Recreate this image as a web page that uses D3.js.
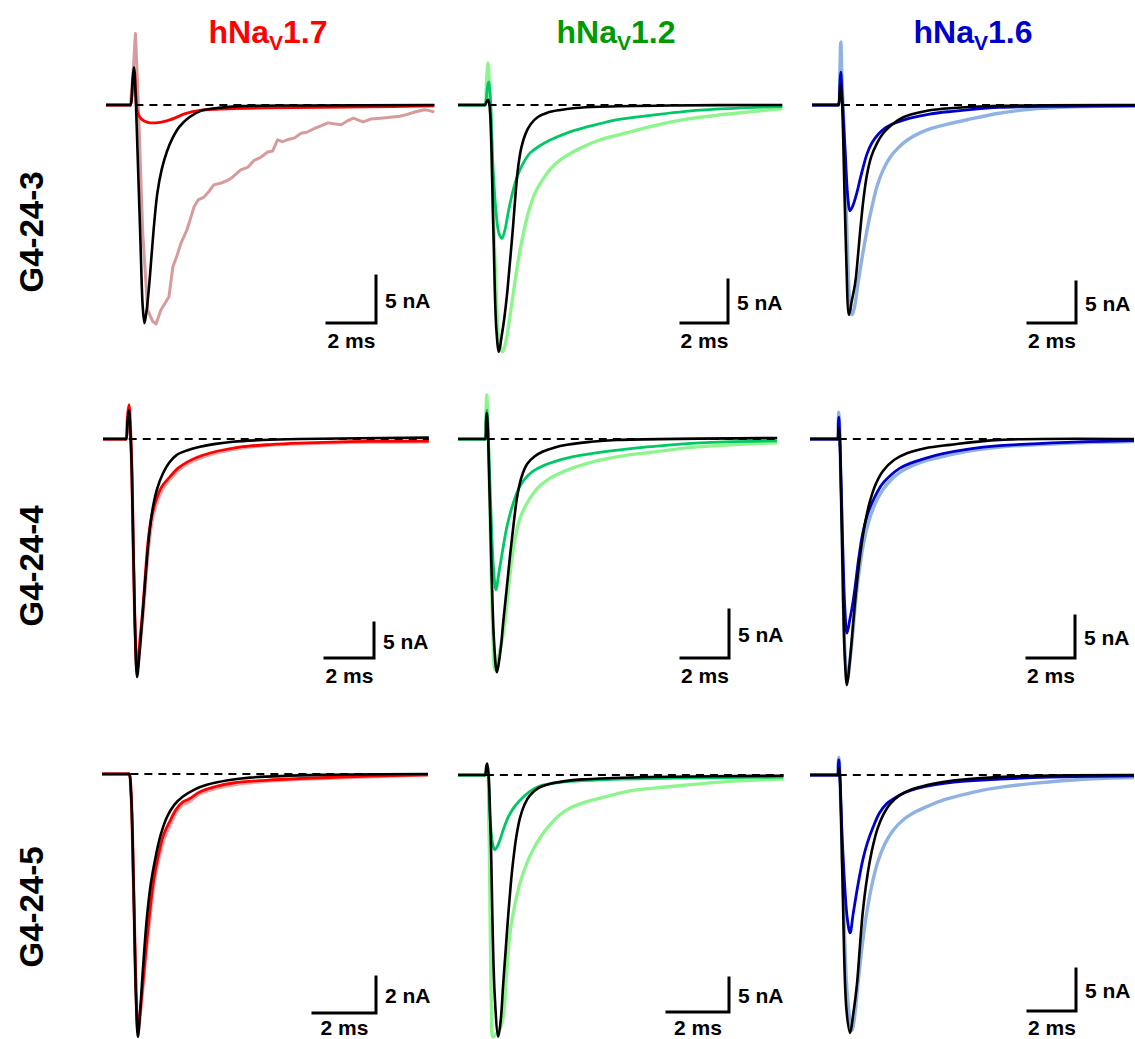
<!DOCTYPE html>
<html>
<head>
<meta charset="utf-8">
<script src="https://d3js.org/d3.v7.min.js"></script>
<style>
  html, body { margin:0; padding:0; background:#fff; }
  svg { display:block; }
  text { font-family: "Liberation Sans", Arial, Helvetica, sans-serif; font-weight: bold; }
</style>
</head>
<body>
<svg id="chart" width="1135" height="1039"></svg>
<script>
// ---------------- DATA (time in ms, current in nA) ----------------
const columnTitles = ["1.7", "1.2", "1.6"];
const rowLabels = ["G4-24-3", "G4-24-4", "G4-24-5"];
const timeBarMs = [2, 2, 2, 2, 2, 2, 2, 2, 2];
const currentBarNa = [5, 5, 5, 5, 5, 5, 2, 5, 5];
const panelEndMs = [13.4, 13.8, 13.5, 13.3, 13.3, 13.5, 10.35, 10.5, 13.5];
const dashStartMs = [1.2, 1.3, 1.25, 1.05, 1.2, 1.2, 0.9, 0.9, 1.2];

// Row 1, hNaV1.7
const r1c1_light = [[0,0],[0.5,0],[0.92,0],[1.0,0],[1.12,4],[1.2,7.6],[1.26,4],[1.32,0],[1.5,-13.6],[1.7,-21.8],[1.9,-23.0],[2.04,-23.3],[2.24,-21.8],[2.57,-20.4],[2.73,-17.2],[2.9,-16],[3.06,-14.7],[3.3,-13.3],[3.47,-11.9],[3.6,-10.8],[3.76,-10.1],[4.0,-9.8],[4.2,-9.2],[4.4,-8.5],[4.7,-8.3],[4.98,-8.0],[5.2,-7.6],[5.5,-6.9],[5.8,-6.6],[6.04,-5.9],[6.3,-5.6],[6.6,-5.0],[6.8,-4.9],[7.0,-3.7],[7.2,-3.9],[7.4,-3.7],[7.7,-3.5],[7.96,-3.0],[8.2,-2.9],[8.5,-2.5],[8.8,-2.2],[9.06,-1.9],[9.3,-2.0],[9.6,-2.1],[9.85,-1.7],[10.1,-1.4],[10.3,-1.6],[10.5,-1.8],[10.8,-1.5],[11.2,-1.4],[11.6,-1.3],[12.0,-1.2],[12.3,-1.0],[12.6,-0.75],[13.0,-0.5],[13.2,-0.6],[13.4,-0.75]];
const r1c1_dark = [[0,0],[0.5,0],[0.94,0],[1.0,0],[1.1,2.5],[1.16,3.6],[1.22,1],[1.3,-0.9],[1.45,-1.5],[1.7,-1.85],[2.04,-1.9],[2.4,-1.75],[2.8,-1.4],[3.2,-0.95],[3.9,-0.55],[5,-0.4],[6.6,-0.3],[10.7,-0.2],[13.4,-0.1]];
const r1c1_black = [[0,0],[0.5,0],[0.94,0],[1.0,0],[1.08,2.5],[1.14,4.0],[1.2,1.5],[1.25,-2],[1.4,-14],[1.5,-21.5],[1.57,-23.2],[1.65,-22],[1.75,-19.5],[1.86,-16],[1.97,-12.5],[2.1,-9.3],[2.27,-6.9],[2.48,-5.0],[2.72,-3.5],[3.0,-2.3],[3.4,-1.3],[3.9,-0.6],[4.6,-0.3],[5.6,-0.12],[8,-0.05],[13.4,0]];

// Row 1, hNaV1.2
const r1c2_light = [[0,0],[0.6,0],[1.09,0],[1.15,0],[1.22,3],[1.28,4.9],[1.34,2],[1.42,-4],[1.6,-20],[1.76,-27.6],[1.9,-28.7],[2.03,-27.6],[2.21,-24.6],[2.42,-20.6],[2.64,-16.9],[2.85,-14.1],[3.06,-11.9],[3.3,-10.1],[3.6,-8.7],[3.95,-7.4],[4.34,-6.4],[4.8,-5.6],[5.3,-4.9],[6.0,-4.1],[6.8,-3.5],[7.5,-3.0],[8.2,-2.5],[9.6,-1.7],[11.0,-1.2],[12.4,-0.8],[13.8,-0.4]];
const r1c2_dark = [[0,0],[0.6,0],[1.09,0],[1.15,0],[1.24,1.8],[1.3,2.7],[1.37,1.2],[1.49,-7.2],[1.62,-12.5],[1.75,-15],[1.87,-15.5],[2.0,-14.5],[2.13,-12.6],[2.32,-10.2],[2.51,-8.4],[2.75,-6.9],[3.06,-5.6],[3.45,-4.8],[3.9,-4.1],[4.6,-3.3],[5.3,-2.7],[6.0,-2.2],[6.8,-1.7],[8.2,-1.2],[10.3,-0.6],[12.4,-0.3],[13.8,-0.2]];
const r1c2_black = [[0,0],[0.6,0],[1.09,0],[1.15,0],[1.22,0.4],[1.28,0.6],[1.34,0],[1.5,-14],[1.63,-26],[1.74,-28.7],[1.85,-27],[1.97,-24.8],[2.08,-22.2],[2.2,-18.6],[2.34,-14.2],[2.45,-10.3],[2.56,-7.2],[2.7,-4.9],[2.88,-3.3],[3.1,-2.2],[3.4,-1.4],[3.8,-0.9],[4.3,-0.6],[5.0,-0.35],[6.0,-0.2],[9,-0.05],[13.8,0]];

// Row 1, hNaV1.6
const r1c3_light = [[0,0],[0.6,0],[1.05,0],[1.1,0],[1.16,4],[1.2,7.7],[1.25,3],[1.32,-2],[1.48,-18],[1.6,-25],[1.67,-25.6],[1.78,-24.5],[1.92,-21.7],[2.1,-18.4],[2.29,-15.3],[2.5,-12.4],[2.7,-10.0],[2.95,-8.0],[3.25,-6.4],[3.6,-5.2],[3.96,-4.3],[4.5,-3.4],[5.04,-2.8],[5.7,-2.3],[6.46,-1.8],[7.8,-1.0],[9.2,-0.5],[11.3,-0.2],[13.5,-0.1]];
const r1c3_dark = [[0,0],[0.6,0],[1.05,0],[1.1,0],[1.16,2.5],[1.2,4.0],[1.25,1.5],[1.38,-5.5],[1.5,-11.5],[1.58,-12.9],[1.7,-12.3],[1.87,-10.7],[2.0,-9.1],[2.13,-7.6],[2.3,-5.9],[2.5,-4.6],[2.78,-3.5],[3.1,-2.7],[3.55,-2.1],[4.08,-1.6],[4.9,-1.1],[5.75,-0.8],[7.8,-0.3],[10.5,-0.15],[13.5,-0.1]];
const r1c3_black = [[0,0],[0.6,0],[1.05,0],[1.1,0],[1.16,1.6],[1.2,2.4],[1.25,0.5],[1.3,-4],[1.42,-18],[1.54,-25.6],[1.65,-24],[1.8,-21.7],[1.9,-18.9],[2.0,-15.6],[2.14,-11.6],[2.29,-8.5],[2.47,-6.3],[2.7,-4.7],[2.95,-3.5],[3.25,-2.6],[3.6,-1.8],[4.08,-1.2],[4.8,-0.7],[5.75,-0.4],[7.8,-0.1],[13.5,0]];

// Row 2, hNaV1.7
const r2c1_light = [[0,0],[0.5,0],[0.89,0],[0.94,0],[1.0,3],[1.06,4.6],[1.12,1.5],[1.18,-5],[1.3,-26],[1.4,-33],[1.52,-29],[1.66,-24],[1.77,-19],[1.88,-14.8],[2.02,-11.4],[2.2,-9.0],[2.45,-7.0],[2.77,-5.6],[3.1,-4.4],[3.47,-3.5],[3.9,-2.8],[4.4,-2.2],[5.0,-1.7],[5.7,-1.25],[6.8,-0.9],[8.0,-0.7],[10.8,-0.45],[13.3,-0.4]];
const r2c1_dark = [[0,0],[0.5,0],[0.89,0],[0.94,0],[1.0,3],[1.06,4.9],[1.12,1.5],[1.18,-5],[1.3,-26],[1.39,-33],[1.5,-29],[1.63,-24],[1.74,-18.8],[1.84,-14.6],[1.98,-11.2],[2.16,-8.8],[2.4,-6.8],[2.73,-5.4],[3.05,-4.2],[3.43,-3.3],[3.85,-2.6],[4.37,-2.0],[5.0,-1.5],[5.7,-1.1],[6.8,-0.8],[8.0,-0.6],[10.8,-0.35],[13.3,-0.3]];
const r2c1_black = [[0,0],[0.5,0],[0.89,0],[0.94,0],[1.0,2.5],[1.06,4.1],[1.12,1],[1.18,-5],[1.3,-26],[1.39,-34],[1.48,-31],[1.59,-26.3],[1.7,-21.3],[1.8,-16.9],[1.91,-12.9],[2.04,-9.7],[2.22,-7.0],[2.45,-4.9],[2.7,-3.4],[3.0,-2.3],[3.45,-1.6],[3.96,-1.1],[4.6,-0.7],[5.3,-0.4],[6.5,-0.15],[8.0,0],[13.3,0.2]];

// Row 2, hNaV1.2
const r2c2_light = [[0,0],[0.6,0],[1.08,0],[1.13,0],[1.17,3],[1.2,4.6],[1.25,1.5],[1.32,-6],[1.45,-20],[1.54,-24],[1.7,-22.5],[1.83,-21],[1.96,-19],[2.1,-15.6],[2.25,-12.4],[2.4,-10.1],[2.58,-8.3],[2.85,-6.8],[3.13,-5.7],[3.45,-4.8],[3.83,-4.1],[4.3,-3.5],[4.8,-3.0],[5.9,-2.2],[7.0,-1.7],[8.0,-1.4],[10.1,-0.8],[13.3,-0.4]];
const r2c2_dark = [[0,0],[0.6,0],[1.08,0],[1.13,0],[1.17,2],[1.2,3.0],[1.25,1],[1.35,-6],[1.48,-13.5],[1.58,-15.7],[1.7,-14],[1.88,-11.3],[2.05,-9.0],[2.25,-7.1],[2.47,-5.5],[2.71,-4.4],[3.1,-3.4],[3.54,-2.8],[4.54,-2.0],[5.9,-1.4],[7.0,-1.05],[8.0,-0.8],[10.1,-0.4],[13.3,-0.2]];
const r2c2_black = [[0,0],[0.6,0],[1.08,0],[1.13,0],[1.17,1.8],[1.2,2.7],[1.25,0.5],[1.32,-6],[1.5,-21],[1.62,-24.3],[1.72,-23],[1.8,-21.4],[1.88,-19.2],[2.02,-15.8],[2.17,-12.1],[2.32,-8.8],[2.46,-6.1],[2.63,-4.1],[2.88,-2.6],[3.2,-1.8],[3.54,-1.3],[4.0,-0.9],[4.54,-0.6],[5.5,-0.3],[6.6,-0.1],[13.3,0.1]];

// Row 2, hNaV1.6
const r2c3_light = [[0,0],[0.6,0],[1.1,0],[1.15,0],[1.18,2.2],[1.2,3.2],[1.24,0.5],[1.32,-9],[1.45,-25],[1.56,-28.7],[1.68,-26],[1.78,-23.2],[1.88,-20],[2.03,-16.2],[2.2,-12.9],[2.43,-10.0],[2.7,-7.8],[3.0,-6.2],[3.33,-5.0],[3.73,-4.0],[4.17,-3.3],[4.8,-2.6],[5.54,-2.1],[6.6,-1.45],[7.9,-0.95],[10.7,-0.5],[13.5,-0.3]];
const r2c3_dark = [[0,0],[0.6,0],[1.1,0],[1.15,0],[1.18,1.8],[1.2,2.6],[1.24,0.5],[1.32,-8],[1.45,-20],[1.54,-23.1],[1.66,-21.5],[1.77,-19.8],[1.88,-17.6],[2.03,-14.2],[2.2,-11.2],[2.43,-8.7],[2.7,-6.9],[3.0,-5.4],[3.33,-4.4],[3.73,-3.5],[4.17,-2.9],[4.8,-2.3],[5.54,-1.75],[6.6,-1.2],[7.9,-0.8],[10.7,-0.4],[13.5,-0.2]];
const r2c3_black = [[0,0],[0.6,0],[1.1,0],[1.15,0],[1.18,1.0],[1.2,1.3],[1.24,0],[1.32,-10],[1.45,-26],[1.54,-29.3],[1.64,-27],[1.72,-24.6],[1.8,-21.9],[1.93,-17.8],[2.08,-14.0],[2.28,-10.2],[2.5,-7.4],[2.75,-5.3],[3.04,-3.8],[3.5,-2.5],[4.04,-1.7],[4.8,-1.1],[5.83,-0.7],[7.9,-0.1],[13.5,0]];

// Row 3, hNaV1.7
const r3c1_light = [[0,0],[0.4,0],[0.8,0],[0.86,0],[0.92,-1],[1.0,-6],[1.08,-12],[1.15,-14.3],[1.22,-13.3],[1.31,-11.7],[1.42,-9.6],[1.53,-7.8],[1.65,-6.1],[1.79,-4.8],[1.97,-3.6],[2.17,-2.8],[2.37,-2.1],[2.57,-1.7],[2.7,-1.6],[2.8,-1.5],[3.1,-1.1],[3.6,-0.8],[4.16,-0.6],[5.2,-0.4],[6.3,-0.3],[8.5,-0.15],[10.35,-0.05]];
const r3c1_dark = [[0,0],[0.4,0],[0.8,0],[0.86,0],[0.92,-1],[1.0,-6],[1.08,-12],[1.14,-14.2],[1.21,-13.2],[1.3,-11.6],[1.41,-9.5],[1.52,-7.6],[1.64,-5.9],[1.78,-4.6],[1.95,-3.4],[2.16,-2.6],[2.36,-1.95],[2.57,-1.55],[2.7,-1.45],[2.8,-1.35],[3.1,-1.0],[3.6,-0.7],[4.16,-0.5],[5.2,-0.35],[6.3,-0.25],[8.5,-0.12],[10.35,-0.05]];
const r3c1_black = [[0,0],[0.4,0],[0.8,0],[0.86,0],[0.92,-1],[1.0,-6],[1.08,-12.5],[1.14,-14.6],[1.2,-13.5],[1.27,-11.6],[1.35,-9.6],[1.43,-7.9],[1.55,-6.1],[1.68,-4.8],[1.86,-3.4],[2.06,-2.4],[2.3,-1.7],[2.57,-1.25],[2.95,-0.85],[3.33,-0.6],[4.0,-0.35],[4.7,-0.2],[7,-0.05],[10.35,0]];

// Row 3, hNaV1.2
const r3c2_light = [[0,0],[0.4,0],[0.82,0],[0.87,0],[0.94,0.8],[1.0,-8],[1.08,-34],[1.13,-38.5],[1.25,-38],[1.36,-37.3],[1.46,-35.6],[1.57,-29],[1.68,-23.2],[1.83,-19.2],[2.0,-15.9],[2.2,-13.2],[2.42,-11.0],[2.68,-9.0],[2.97,-7.3],[3.25,-6.0],[3.6,-4.9],[4.1,-4.0],[4.6,-3.4],[5.1,-2.8],[5.6,-2.3],[6.4,-1.9],[7.3,-1.5],[8.9,-0.9],[10.5,-0.6]];
const r3c2_dark = [[0,0],[0.4,0],[0.82,0],[0.87,0],[0.94,0.5],[1.03,-6.2],[1.12,-10.2],[1.19,-11.0],[1.27,-10.5],[1.35,-9.6],[1.48,-7.8],[1.62,-6.2],[1.8,-4.8],[2.0,-3.7],[2.32,-2.4],[2.6,-1.7],[2.97,-1.3],[3.6,-0.95],[4.6,-0.7],[7.3,-0.45],[10.5,-0.3]];
const r3c2_black = [[0,0],[0.4,0],[0.82,0],[0.87,0],[0.91,1.2],[0.94,1.7],[0.98,0.5],[1.05,-8],[1.18,-32],[1.3,-38.5],[1.38,-36],[1.46,-30.6],[1.54,-25.6],[1.62,-20.6],[1.7,-16.2],[1.78,-12.6],[1.88,-9.1],[2.0,-6.3],[2.15,-4.3],[2.32,-3.0],[2.6,-1.9],[2.97,-1.3],[3.45,-0.9],[4.0,-0.65],[5.0,-0.45],[6.2,-0.3],[10.5,-0.1]];

// Row 3, hNaV1.6
const r3c3_light = [[0,0],[0.6,0],[1.1,0],[1.15,0],[1.18,1.5],[1.2,2.1],[1.24,0.2],[1.35,-10],[1.55,-26],[1.75,-30.4],[1.87,-28.5],[2.0,-24.8],[2.18,-20.2],[2.38,-16.1],[2.6,-12.8],[2.83,-10.3],[3.12,-8.2],[3.46,-6.6],[3.9,-5.3],[4.46,-4.3],[5.0,-3.6],[5.54,-3.0],[6.3,-2.4],[7.2,-1.8],[8.2,-1.35],[9.3,-1.0],[11.4,-0.5],[13.5,-0.3]];
const r3c3_dark = [[0,0],[0.6,0],[1.1,0],[1.15,0],[1.18,1.2],[1.2,1.8],[1.24,0.2],[1.35,-8],[1.55,-17],[1.67,-18.8],[1.8,-16.5],[1.96,-13.7],[2.08,-11.8],[2.2,-10.1],[2.4,-8.0],[2.63,-6.2],[2.9,-4.5],[3.2,-3.4],[3.6,-2.6],[4.04,-2.0],[4.55,-1.55],[5.1,-1.2],[6.0,-0.85],[7.2,-0.6],[10,-0.25],[13.5,-0.1]];
const r3c3_black = [[0,0],[0.6,0],[1.12,0],[1.17,0],[1.2,0.8],[1.24,0],[1.35,-12],[1.52,-28],[1.67,-30.7],[1.8,-28.5],[1.96,-24.8],[2.08,-20.4],[2.2,-16.3],[2.38,-12.2],[2.58,-9.0],[2.8,-6.5],[3.04,-4.8],[3.35,-3.4],[3.75,-2.4],[4.25,-1.7],[4.88,-1.2],[5.6,-0.8],[6.5,-0.5],[9.3,-0.1],[13.5,0]];

// ---------------- STYLE / LAYOUT ----------------
const titleColors = ["#ff0000", "#009900", "#0000cc"];
const lightColors = ["#f2a2a2", "#8ef58e", "#8fb2e2"];
const darkColors  = ["#ff0000", "#00c864", "#0000cc"];
const lightRedTop = "#d79b9b";

// per-panel layout: trace origin x, baseline y, px per ms, px per nA, scale-bar corner
const layout = [
  {x0:106, baseY:105, msPx:24.5, nAPx:9.4, barX:376, barY:323},
  {x0:458, baseY:105, msPx:23.5, nAPx:8.6, barX:728, barY:323},
  {x0:812, baseY:105, msPx:24,   nAPx:8.2, barX:1076, barY:323},
  {x0:103, baseY:439, msPx:24.5, nAPx:7.0, barX:374, barY:658},
  {x0:458, baseY:439, msPx:24,   nAPx:9.6, barX:729, barY:658},
  {x0:810, baseY:439, msPx:24,   nAPx:8.4, barX:1075, barY:658},
  {x0:102, baseY:774, msPx:31.5, nAPx:18,  barX:376, barY:1013},
  {x0:458, baseY:775, msPx:31,   nAPx:6.8, barX:729, barY:1012},
  {x0:810, baseY:775, msPx:24,   nAPx:8.4, barX:1076, barY:1011}
];

const panelTraces = [
  [r1c1_light, r1c1_dark, r1c1_black],
  [r1c2_light, r1c2_dark, r1c2_black],
  [r1c3_light, r1c3_dark, r1c3_black],
  [r2c1_light, r2c1_dark, r2c1_black],
  [r2c2_light, r2c2_dark, r2c2_black],
  [r2c3_light, r2c3_dark, r2c3_black],
  [r3c1_light, r3c1_dark, r3c1_black],
  [r3c2_light, r3c2_dark, r3c2_black],
  [r3c3_light, r3c3_dark, r3c3_black]
];

const svg = d3.select("#chart");

// Column titles
const titleCx = [268, 616, 973];
columnTitles.forEach((v, i) => {
  const t = svg.append("text")
    .attr("x", titleCx[i]).attr("y", 43)
    .attr("text-anchor", "middle")
    .attr("font-size", 32)
    .attr("fill", titleColors[i]);
  t.append("tspan").text("hNa");
  t.append("tspan").attr("font-size", 21).attr("dy", 7).text("V");
  t.append("tspan").attr("dy", -7).text(v);
});

// Row labels
const rowCy = [232, 566, 907];
rowLabels.forEach((lab, i) => {
  svg.append("text")
    .attr("transform", `translate(43,${rowCy[i]}) rotate(-90)`)
    .attr("text-anchor", "middle")
    .attr("font-size", 33)
    .attr("fill", "#000")
    .text(lab);
});

const smooth = d3.curveCatmullRom.alpha(0.5);

panelTraces.forEach((traces, p) => {
  const L = layout[p];
  const col = p % 3, row = Math.floor(p / 3);
  const tEnd = panelEndMs[p];
  const x = d3.scaleLinear().domain([0, tEnd]).range([L.x0, L.x0 + tEnd * L.msPx]);
  const y = d3.scaleLinear().domain([0, 1]).range([L.baseY, L.baseY - L.nAPx]);
  const line = d3.line().x(d => x(d[0])).y(d => y(d[1]));
  const g = svg.append("g");

  const isNoisy = (row === 0 && col === 0);
  const lightC = isNoisy ? lightRedTop : lightColors[col];
  const styles = [
    {c: lightC, w: isNoisy ? 3 : 3.4, curve: isNoisy ? d3.curveLinear : smooth},
    {c: darkColors[col], w: 2.8, curve: smooth},
    {c: "#000", w: 2.6, curve: smooth}
  ];
  traces.forEach((data, k) => {
    g.append("path")
      .datum(data)
      .attr("fill", "none")
      .attr("stroke", styles[k].c)
      .attr("stroke-width", styles[k].w)
      .attr("stroke-linejoin", "round")
      .attr("d", line.curve(styles[k].curve));
  });

  // dashed zero line
  g.append("line")
    .attr("x1", x(dashStartMs[p])).attr("x2", x(tEnd))
    .attr("y1", y(0)).attr("y2", y(0))
    .attr("stroke", "#000").attr("stroke-width", 2)
    .attr("stroke-dasharray", "8,6");

  // scale bars
  const hLen = x(timeBarMs[p]) - x(0);
  const vLen = y(0) - y(currentBarNa[p]);
  g.append("path")
    .attr("d", `M${L.barX - hLen},${L.barY}H${L.barX}V${L.barY - vLen}`)
    .attr("fill", "none").attr("stroke", "#000").attr("stroke-width", 3)
    .attr("stroke-linecap", "square");
  g.append("text")
    .attr("x", L.barX + 9).attr("y", L.barY - vLen / 2 + 8)
    .attr("font-size", 21).attr("fill", "#000")
    .text(currentBarNa[p] + " nA");
  g.append("text")
    .attr("x", L.barX - hLen / 2).attr("y", Math.min(L.barY + 25, 1035))
    .attr("text-anchor", "middle")
    .attr("font-size", 21).attr("fill", "#000")
    .text(timeBarMs[p] + " ms");
});
</script>
</body>
</html>
